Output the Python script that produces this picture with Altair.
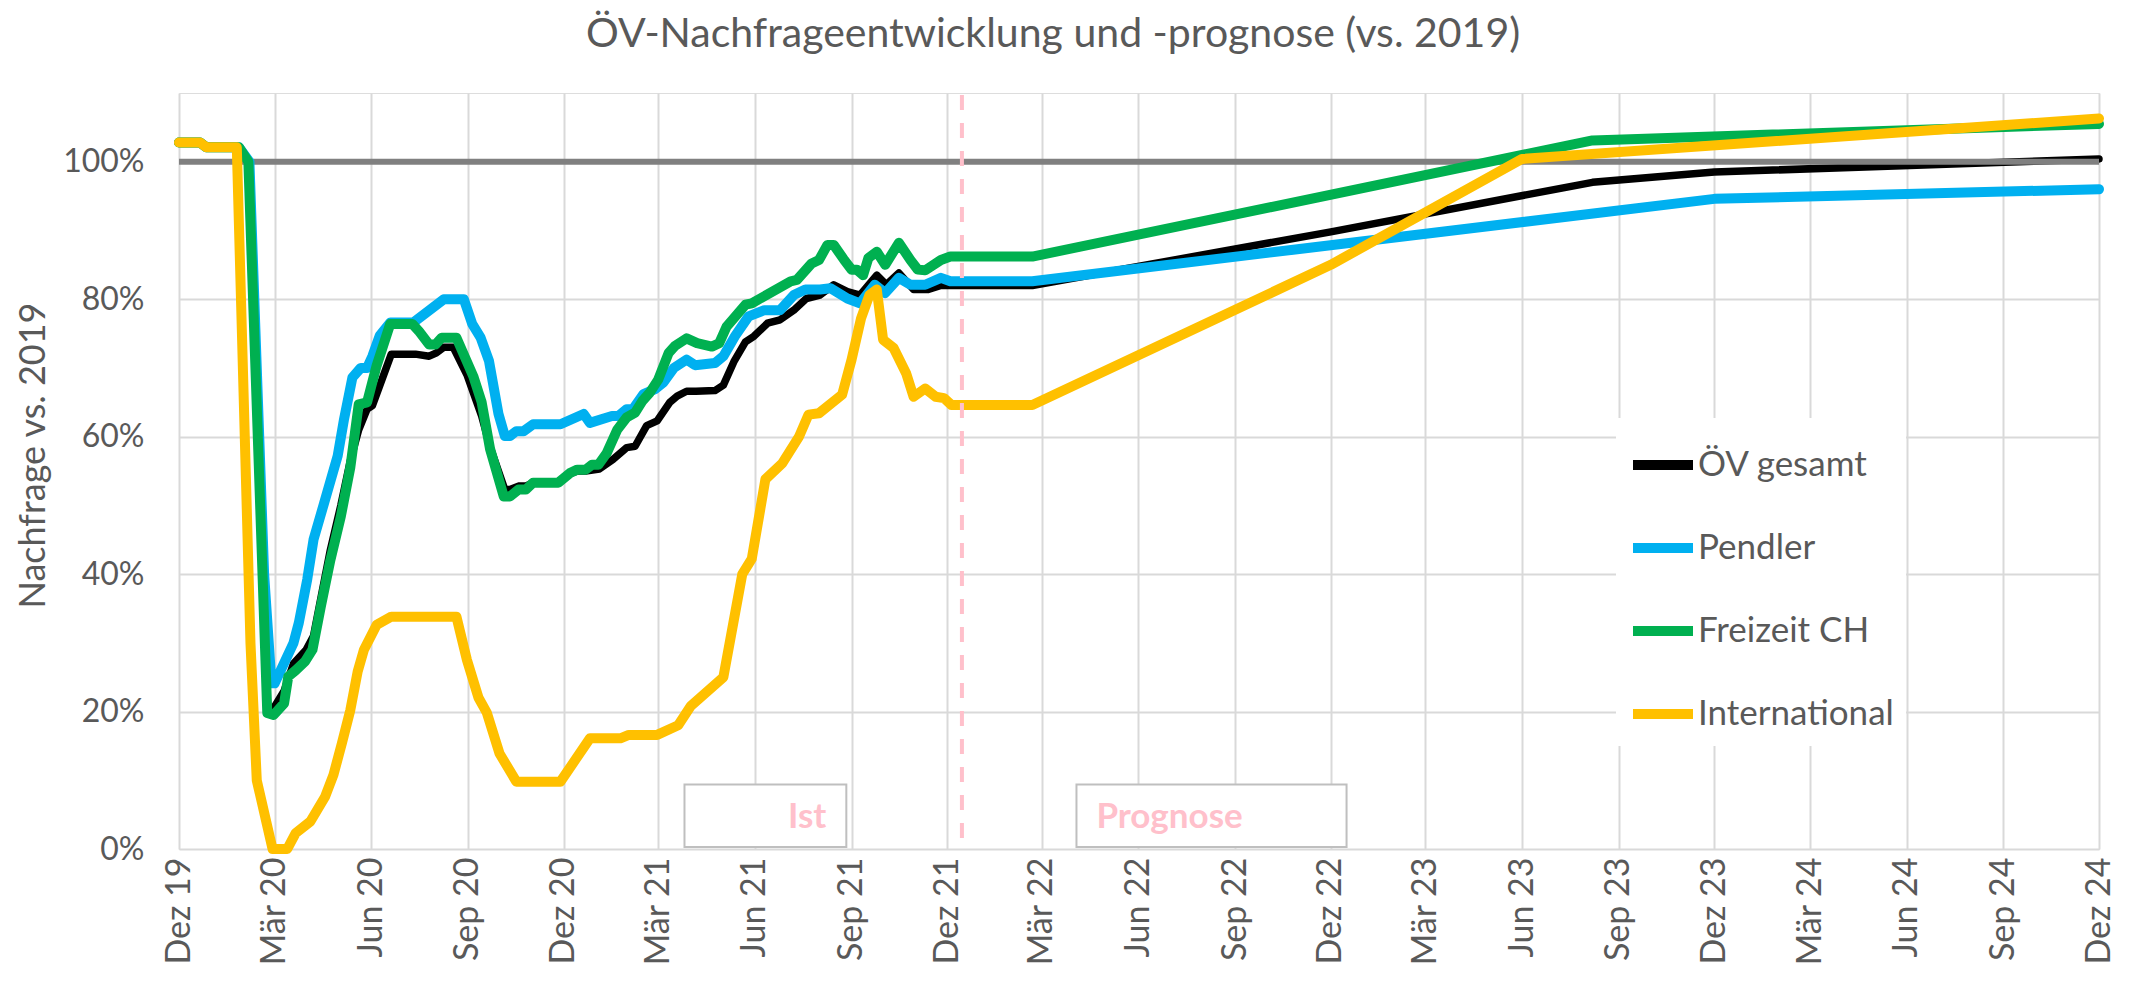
import altair as alt
import pandas as pd

TITLE = "ÖV-Nachfrageentwicklung und -prognose (vs. 2019)"
Y_TITLE = "Nachfrage vs. 2019"
SERIES = ["ÖV gesamt", "Pendler", "Freizeit CH", "International"]
COLORS = ["#000000", "#00B0F0", "#00B050", "#FFC000"]
LINE_WIDTHS = [7.5, 10, 10, 10]
MONTH_NAMES = ["Jan", "Feb", "Mär", "Apr", "Mai", "Jun", "Jul", "Aug", "Sep", "Okt", "Nov", "Dez"]

TICK_DATES = [
    "2019-12-01", "2020-03-01", "2020-06-01", "2020-09-01", "2020-12-01",
    "2021-03-01", "2021-06-01", "2021-09-01", "2021-12-01",
    "2022-03-01", "2022-06-01", "2022-09-01", "2022-12-01",
    "2023-03-01", "2023-06-01", "2023-09-01", "2023-12-01",
    "2024-03-01", "2024-06-01", "2024-09-01", "2024-12-01",
]
Y_TICKS = [0, 20, 40, 60, 80, 100]
Y_DOMAIN = [0, 110]
REFERENZ = 100

# ÖV gesamt
oev_dates = [
    "2019-12-01", "2019-12-21", "2019-12-27", "2020-01-27", "2020-02-05", "2020-02-23",
    "2020-02-29", "2020-03-10", "2020-03-19", "2020-03-31", "2020-04-07", "2020-04-14",
    "2020-04-23", "2020-05-03", "2020-05-12", "2020-05-20", "2020-05-28", "2020-06-02",
    "2020-06-20", "2020-07-13", "2020-07-26", "2020-08-02", "2020-08-09", "2020-08-18",
    "2020-08-31", "2020-09-14", "2020-09-22", "2020-10-06", "2020-10-11", "2020-10-19",
    "2020-10-26", "2020-11-02", "2020-11-26", "2020-12-07", "2020-12-14", "2020-12-22",
    "2021-01-04", "2021-01-17", "2021-01-30", "2021-02-07", "2021-02-18", "2021-02-28",
    "2021-03-12", "2021-03-19", "2021-03-28", "2021-04-06", "2021-04-24", "2021-05-02",
    "2021-05-12", "2021-05-23", "2021-05-31", "2021-06-13", "2021-06-25", "2021-07-08",
    "2021-07-20", "2021-08-02", "2021-08-15", "2021-08-28", "2021-09-09", "2021-09-25",
    "2021-10-04", "2021-10-16", "2021-10-30", "2021-11-13", "2021-11-25", "2022-02-20",
    "2022-12-01", "2023-08-07", "2023-12-01", "2024-12-01",
]
oev_values = [
    102.8, 102.8, 102.1, 102.1, 100.0, 20.5,
    20.5, 23.0, 27.0, 29.0, 31.0, 36.5,
    43.5, 50.0, 56.5, 61.0, 64.0, 64.5,
    72.0, 72.0, 71.7, 72.2, 73.0, 73.0,
    69.0, 63.0, 58.5, 52.3, 52.3, 52.8,
    52.8, 53.3, 53.3, 54.6, 55.0, 55.0,
    55.3, 56.7, 58.4, 58.6, 61.6, 62.3,
    65.0, 65.9, 66.6, 66.6, 66.7, 67.5,
    70.9, 73.8, 74.6, 76.5, 77.0, 78.4,
    80.1, 80.6, 82.1, 81.1, 80.6, 83.5,
    82.1, 83.8, 81.4, 81.4, 82.0, 82.0,
    89.8, 97.0, 98.5, 100.4,
]

# Pendler
pendler_dates = [
    "2019-12-01", "2019-12-21", "2019-12-27", "2020-01-27", "2020-02-06", "2020-02-20",
    "2020-02-27", "2020-03-01", "2020-03-19", "2020-03-24", "2020-04-01", "2020-04-07",
    "2020-04-17", "2020-04-30", "2020-05-06", "2020-05-14", "2020-05-22", "2020-05-28",
    "2020-06-02", "2020-06-09", "2020-06-19", "2020-07-11", "2020-08-09", "2020-08-28",
    "2020-09-05", "2020-09-13", "2020-09-21", "2020-09-30", "2020-10-06", "2020-10-11",
    "2020-10-17", "2020-10-24", "2020-11-02", "2020-11-28", "2020-12-20", "2020-12-26",
    "2021-01-16", "2021-01-22", "2021-01-30", "2021-02-05", "2021-02-15", "2021-02-26",
    "2021-03-06", "2021-03-16", "2021-03-28", "2021-04-05", "2021-04-24", "2021-05-02",
    "2021-05-13", "2021-05-26", "2021-06-10", "2021-06-25", "2021-07-08", "2021-07-19",
    "2021-08-02", "2021-08-12", "2021-08-28", "2021-09-09", "2021-09-23", "2021-10-03",
    "2021-10-16", "2021-10-27", "2021-11-10", "2021-11-25", "2021-12-04", "2022-02-20",
    "2023-12-01", "2024-12-01",
]
pendler_values = [
    102.8, 102.8, 102.1, 102.1, 100.0, 40.0,
    24.1, 24.1, 30.0, 32.9, 39.2, 45.0,
    50.3, 57.2, 62.5, 68.6, 70.0, 70.0,
    71.7, 74.7, 76.6, 76.6, 80.0, 80.0,
    76.4, 74.4, 71.0, 63.3, 60.1, 60.1,
    60.8, 60.8, 61.8, 61.8, 63.3, 62.0,
    63.0, 63.0, 64.0, 64.0, 66.2, 66.9,
    67.9, 70.0, 71.2, 70.4, 70.7, 71.7,
    74.6, 77.5, 78.4, 78.4, 80.6, 81.4,
    81.4, 81.6, 80.1, 79.4, 82.1, 80.9,
    83.1, 82.1, 82.1, 83.1, 82.6, 82.6,
    94.6, 96.0,
]

# Freizeit CH
freizeit_dates = [
    "2019-12-01", "2019-12-21", "2019-12-27", "2020-01-27", "2020-02-05", "2020-02-23",
    "2020-02-29", "2020-03-10", "2020-03-14", "2020-03-21", "2020-03-30", "2020-04-06",
    "2020-04-14", "2020-04-23", "2020-05-03", "2020-05-12", "2020-05-20", "2020-05-28",
    "2020-06-06", "2020-06-19", "2020-07-10", "2020-07-16", "2020-07-26", "2020-08-01",
    "2020-08-07", "2020-08-21", "2020-09-06", "2020-09-14", "2020-09-22", "2020-10-05",
    "2020-10-11", "2020-10-19", "2020-10-26", "2020-11-02", "2020-11-26", "2020-12-07",
    "2020-12-14", "2020-12-22", "2020-12-28", "2021-01-03", "2021-01-11", "2021-01-21",
    "2021-01-30", "2021-02-07", "2021-02-14", "2021-02-21", "2021-03-01", "2021-03-11",
    "2021-03-17", "2021-03-28", "2021-04-07", "2021-04-21", "2021-04-28", "2021-05-05",
    "2021-05-23", "2021-05-29", "2021-07-05", "2021-07-11", "2021-07-25", "2021-08-01",
    "2021-08-09", "2021-08-15", "2021-08-25", "2021-09-01", "2021-09-06", "2021-09-12",
    "2021-09-17", "2021-09-25", "2021-10-03", "2021-10-16", "2021-10-27", "2021-11-03",
    "2021-11-10", "2021-11-25", "2021-12-04", "2022-02-20", "2023-08-07", "2024-12-01",
]
freizeit_values = [
    102.8, 102.8, 102.1, 102.1, 100.0, 19.8,
    19.5, 21.2, 25.1, 26.0, 27.3, 29.0,
    35.3, 42.0, 48.4, 55.5, 64.7, 65.0,
    70.3, 76.4, 76.4, 75.4, 73.4, 73.4,
    74.4, 74.4, 68.8, 65.0, 58.2, 51.3,
    51.3, 52.3, 52.3, 53.3, 53.3, 54.7,
    55.2, 55.2, 55.9, 55.9, 57.6, 61.0,
    62.8, 63.5, 65.2, 66.4, 68.3, 72.2,
    73.2, 74.3, 73.6, 73.1, 73.6, 76.0,
    79.2, 79.4, 82.6, 82.8, 85.2, 85.7,
    87.9, 87.9, 85.7, 84.3, 84.3, 83.5,
    86.0, 86.9, 85.0, 88.2, 85.7, 84.3,
    84.2, 85.7, 86.2, 86.2, 103.1, 105.5,
]

# International
international_dates = [
    "2019-12-01", "2019-12-21", "2019-12-27", "2020-01-25", "2020-02-07", "2020-02-13",
    "2020-02-28", "2020-03-13", "2020-03-21", "2020-04-04", "2020-04-18", "2020-04-26",
    "2020-05-04", "2020-05-12", "2020-05-19", "2020-05-25", "2020-06-06", "2020-06-20",
    "2020-08-21", "2020-08-31", "2020-09-11", "2020-09-19", "2020-10-01", "2020-10-17",
    "2020-11-28", "2020-12-26", "2021-01-24", "2021-02-01", "2021-02-28", "2021-03-20",
    "2021-04-01", "2021-05-02", "2021-05-20", "2021-05-29", "2021-06-11", "2021-06-27",
    "2021-07-13", "2021-07-22", "2021-08-01", "2021-08-23", "2021-09-01", "2021-09-10",
    "2021-09-18", "2021-09-25", "2021-10-01", "2021-10-11", "2021-10-23", "2021-10-30",
    "2021-11-10", "2021-11-20", "2021-11-28", "2021-12-05", "2022-02-20", "2022-12-01",
    "2023-06-01", "2024-12-01",
]
international_values = [
    102.8, 102.8, 102.1, 102.1, 30.0, 10.0,
    0.0, 0.0, 2.3, 4.0, 7.6, 10.8,
    15.4, 20.2, 25.8, 29.0, 32.6, 33.8,
    33.8, 27.5, 22.0, 19.8, 13.9, 9.8,
    9.8, 16.1, 16.1, 16.6, 16.6, 18.0,
    20.8, 25.0, 40.0, 42.2, 53.8, 56.1,
    60.0, 63.2, 63.4, 66.1, 71.2, 77.2,
    80.6, 81.4, 74.1, 72.9, 69.2, 65.8,
    67.0, 65.8, 65.6, 64.6, 64.6, 85.0,
    100.4, 106.3,
]

# Trennlinie Ist / Prognose and annotation boxes
TRENN_DATUM = "2021-12-15"
TRENN_VON, TRENN_BIS = 1.6, 110
ANNO_LABELS = ["Ist", "Prognose"]
ANNO_BOX_START = ["2021-03-26", "2022-04-03"]
ANNO_BOX_END = ["2021-08-27", "2022-12-16"]
ANNO_BOX_LOW = [0.3, 0.3]
ANNO_BOX_HIGH = [9.4, 9.4]
ANNO_TEXT_DATE = ["2021-08-08", "2022-04-22"]
ANNO_TEXT_VALUE = [3.0, 3.0]

FONT = "Lato"
TEXT_COLOR = "#595959"
GRID_COLOR = "#D9D9D9"

# ---------- build tables ----------
rows = []
all_dates = [oev_dates, pendler_dates, freizeit_dates, international_dates]
all_values = [oev_values, pendler_values, freizeit_values, international_values]
for name, ds, vs in zip(SERIES, all_dates, all_values):
    for d, v in zip(ds, vs):
        rows.append({"Datum": d, "Wert": v, "Serie": name})
df = pd.DataFrame(rows)


def dt(s):
    y, m, d = (int(p) for p in s.split("-"))
    return alt.DateTime(year=y, month=m, date=d, utc=True)


month_js = "[" + ",".join("'" + m + "'" for m in MONTH_NAMES) + "]"

x_enc = alt.X(
    "Datum:T",
    scale=alt.Scale(type="utc", domain=[dt(TICK_DATES[0]), dt(TICK_DATES[-1])], nice=False),
    axis=alt.Axis(
        values=[dt(s) for s in TICK_DATES],
        labelExpr=month_js + "[utcmonth(datum.value)] + ' ' + utcFormat(datum.value, '%y')",
        labelAngle=270, labelAlign="right", labelBaseline="middle",
        labelPadding=8, labelFont=FONT, labelFontSize=34, labelColor=TEXT_COLOR,
        labelOverlap=False, labelFlush=False, labelBound=False,
        grid=True, gridColor=GRID_COLOR, gridWidth=2,
        ticks=False, domain=False, title=None,
    ),
)
y_enc = alt.Y(
    "Wert:Q",
    scale=alt.Scale(domain=Y_DOMAIN, nice=False, zero=True),
    axis=alt.Axis(
        values=Y_TICKS,
        labelExpr="datum.value + '%'",
        labelPadding=35, labelFont=FONT, labelFontSize=32, labelColor=TEXT_COLOR,
        grid=True, gridColor=GRID_COLOR, gridWidth=2,
        ticks=False, domain=False,
        title=Y_TITLE, titleFont=FONT, titleFontSize=36, titleFontWeight="normal",
        titleColor=TEXT_COLOR, titleAngle=270, titleX=-146, titleY=362,
        titleAlign="center", titleBaseline="middle",
    ),
)
color_enc = alt.Color(
    "Serie:N",
    scale=alt.Scale(domain=SERIES, range=COLORS),
    legend=alt.Legend(
        title=None, orient="none", legendX=1437, legendY=325,
        direction="vertical", symbolType="stroke", symbolSize=3600,
        symbolStrokeWidth=10, labelFont=FONT, labelFontSize=35,
        labelColor=TEXT_COLOR, labelOffset=0, rowPadding=28, padding=12,
        fillColor="white", labelLimit=500,
    ),
)

anno = pd.DataFrame({
    "Label": ANNO_LABELS,
    "Datum": ANNO_BOX_START,
    "Datum2": ANNO_BOX_END,
    "Wert": ANNO_BOX_LOW,
    "Wert2": ANNO_BOX_HIGH,
})
anno_text = pd.DataFrame({"Label": ANNO_LABELS, "Datum": ANNO_TEXT_DATE, "Wert": ANNO_TEXT_VALUE})

boxes = alt.Chart(anno).mark_rect(fill="white", stroke="#BFBFBF", strokeWidth=2).encode(
    x=x_enc, x2="Datum2:T", y=y_enc, y2="Wert2:Q"
)
text_ist = alt.Chart(anno_text).transform_filter(alt.datum.Label == ANNO_LABELS[0]).mark_text(
    font=FONT, fontSize=35, fontWeight="bold", color="#FFC0CB", align="right", baseline="alphabetic"
).encode(x=x_enc, y=y_enc, text="Label:N")
text_prog = alt.Chart(anno_text).transform_filter(alt.datum.Label == ANNO_LABELS[1]).mark_text(
    font=FONT, fontSize=35, fontWeight="bold", color="#FFC0CB", align="left", baseline="alphabetic"
).encode(x=x_enc, y=y_enc, text="Label:N")

ref_line = alt.Chart(pd.DataFrame({"Wert": [REFERENZ]})).mark_rule(
    color="#808080", strokeWidth=6
).encode(y=y_enc)

trenn = alt.Chart(pd.DataFrame({"Datum": [TRENN_DATUM], "Wert": [TRENN_VON], "Wert2": [TRENN_BIS]})).mark_rule(
    color="#FFC0CB", strokeWidth=4, strokeDash=[15, 13]
).encode(x=x_enc, y=y_enc, y2="Wert2:Q")


def series_layer(i):
    return alt.Chart(df).transform_filter(alt.datum.Serie == SERIES[i]).mark_line(
        strokeWidth=LINE_WIDTHS[i], strokeJoin="round", strokeCap="round"
    ).encode(x=x_enc, y=y_enc, color=color_enc)


chart = alt.layer(
    boxes, text_ist, text_prog,
    series_layer(0), ref_line, series_layer(1), series_layer(2), series_layer(3),
    trenn,
).properties(
    width=1920,
    height=756,
    title=alt.TitleParams(
        text=TITLE, font=FONT, fontSize=41, fontWeight="normal", color=TEXT_COLOR,
        anchor="middle", dx=-86, offset=3, baseline="alphabetic",
    ),
    autosize=alt.AutoSizeParams(type="none"),
    padding={"left": 171, "top": 85, "right": 27, "bottom": 130},
).configure_view(stroke=None).configure(background="white")

chart.save("out.html", embed_options={"renderer": "svg", "actions": False})
